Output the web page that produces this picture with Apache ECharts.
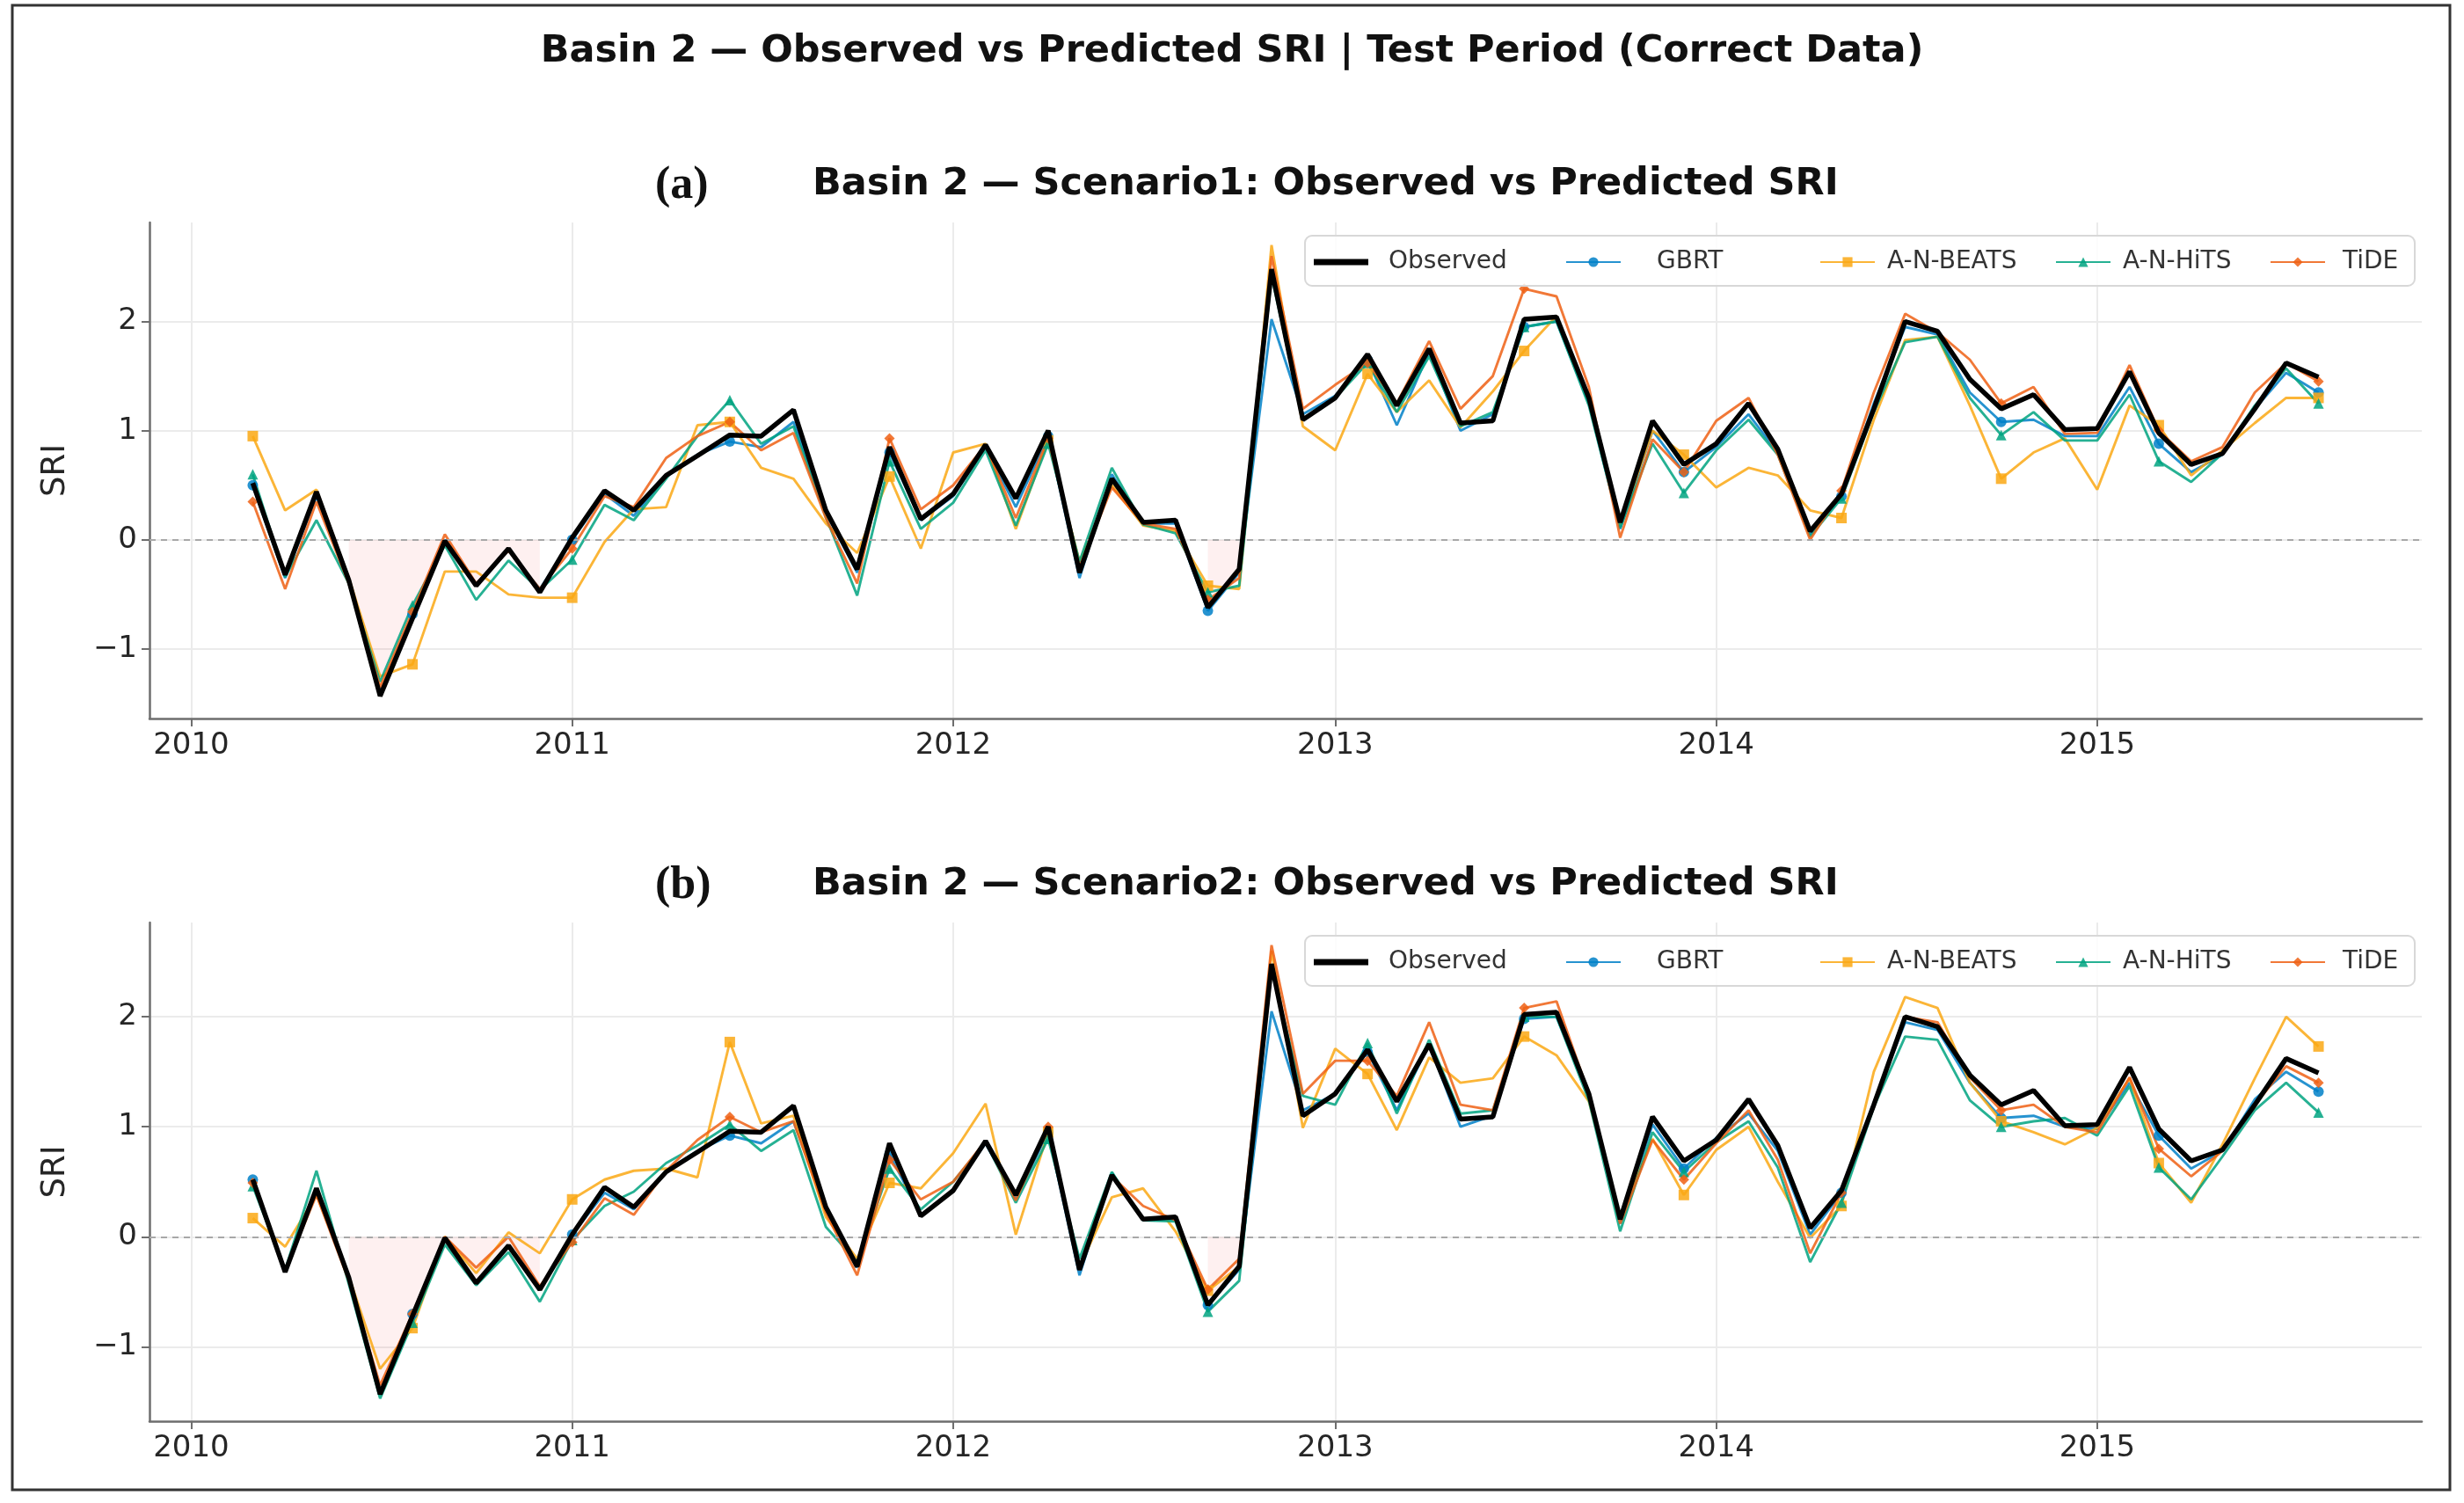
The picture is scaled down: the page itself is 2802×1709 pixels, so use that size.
<!DOCTYPE html>
<html>
<head>
<meta charset="utf-8">
<title>Basin 2 — Observed vs Predicted SRI</title>
<script src="https://cdn.jsdelivr.net/npm/echarts@6/dist/echarts.min.js"></script>
<style>
  html, body { margin: 0; padding: 0; background: #fff; }
  #chart { width: 2802px; height: 1709px; }
</style>
</head>
<body>
<div id="chart"></div>
<script>
// monthly test period
const months = [
  '2010-03','2010-04','2010-05','2010-06','2010-07','2010-08','2010-09','2010-10','2010-11','2010-12',
  '2011-01','2011-02','2011-03','2011-04','2011-05','2011-06','2011-07','2011-08','2011-09','2011-10','2011-11','2011-12',
  '2012-01','2012-02','2012-03','2012-04','2012-05','2012-06','2012-07','2012-08','2012-09','2012-10','2012-11','2012-12',
  '2013-01','2013-02','2013-03','2013-04','2013-05','2013-06','2013-07','2013-08','2013-09','2013-10','2013-11','2013-12',
  '2014-01','2014-02','2014-03','2014-04','2014-05','2014-06','2014-07','2014-08','2014-09','2014-10','2014-11','2014-12',
  '2015-01','2015-02','2015-03','2015-04','2015-05','2015-06','2015-07','2015-08'
];
const yearTicks = [2010, 2011, 2012, 2013, 2014, 2015];
const sriTicks = [-1, 0, 1, 2];

const observed = [
  0.52, -0.32, 0.44, -0.37, -1.43, -0.72, -0.01, -0.42, -0.08, -0.48,
  0.02, 0.45, 0.27, 0.59, 0.77, 0.96, 0.95, 1.19, 0.27, -0.27,
  0.85, 0.19, 0.42, 0.87, 0.38, 1.00, -0.30, 0.56, 0.16, 0.18,
  -0.62, -0.27, 2.48, 1.10, 1.30, 1.70, 1.23, 1.75, 1.07, 1.09,
  2.02, 2.04, 1.30, 0.16, 1.09, 0.69, 0.88, 1.25, 0.83, 0.08,
  0.42, 1.20, 2.00, 1.91, 1.47, 1.20, 1.33, 1.01, 1.02, 1.54,
  0.98, 0.69, 0.79, 1.20, 1.62, 1.49
];

// Scenario 1
const gbrt1 = [
  0.50, -0.35, 0.40, -0.38, -1.40, -0.68, 0.00, -0.40, -0.10, -0.45,
  0.00, 0.42, 0.22, 0.58, 0.78, 0.90, 0.85, 1.08, 0.25, -0.30,
  0.80, 0.18, 0.40, 0.85, 0.30, 0.95, -0.35, 0.60, 0.15, 0.15,
  -0.65, -0.30, 2.02, 1.15, 1.32, 1.65, 1.05, 1.72, 1.00, 1.15,
  1.95, 2.00, 1.25, 0.10, 1.00, 0.62, 0.85, 1.15, 0.80, 0.05,
  0.40, 1.25, 1.95, 1.88, 1.35, 1.08, 1.10, 0.95, 0.95, 1.40,
  0.88, 0.62, 0.78, 1.20, 1.53, 1.35
];
const nbeats1 = [
  0.95, 0.27, 0.46, -0.35, -1.25, -1.14, -0.29, -0.29, -0.50, -0.53,
  -0.53, -0.02, 0.28, 0.30, 1.05, 1.08, 0.66, 0.56, 0.15, -0.12,
  0.58, -0.08, 0.80, 0.88, 0.10, 0.91, -0.20, 0.50, 0.13, 0.08,
  -0.42, -0.45, 2.70, 1.04, 0.82, 1.52, 1.17, 1.46, 1.03, 1.36,
  1.73, 2.05, 1.30, 0.14, 1.00, 0.78, 0.48, 0.66, 0.59, 0.27,
  0.20, 1.10, 1.83, 1.86, 1.23, 0.56, 0.80, 0.93, 0.46, 1.23,
  1.05, 0.59, 0.82, 1.07, 1.30, 1.30
];
const nhits1 = [
  0.60, -0.34, 0.18, -0.40, -1.30, -0.60, -0.05, -0.55, -0.19, -0.46,
  -0.18, 0.32, 0.18, 0.56, 0.95, 1.28, 0.88, 1.04, 0.21, -0.51,
  0.72, 0.10, 0.34, 0.82, 0.13, 0.88, -0.20, 0.66, 0.14, 0.06,
  -0.48, -0.42, 2.42, 1.10, 1.30, 1.62, 1.17, 1.68, 1.04, 1.17,
  1.95, 2.00, 1.23, 0.11, 0.88, 0.43, 0.82, 1.10, 0.78, 0.03,
  0.38, 1.17, 1.81, 1.86, 1.30, 0.96, 1.17, 0.91, 0.91, 1.33,
  0.72, 0.53, 0.79, 1.23, 1.57, 1.25
];
const tide1 = [
  0.35, -0.45, 0.35, -0.40, -1.35, -0.66, 0.05, -0.40, -0.10, -0.45,
  -0.08, 0.40, 0.30, 0.75, 0.95, 1.08, 0.82, 0.98, 0.20, -0.40,
  0.93, 0.28, 0.50, 0.87, 0.20, 0.93, -0.25, 0.48, 0.15, 0.10,
  -0.55, -0.35, 2.60, 1.20, 1.42, 1.62, 1.25, 1.82, 1.20, 1.50,
  2.30, 2.23, 1.40, 0.02, 0.92, 0.62, 1.09, 1.30, 0.78, 0.00,
  0.45, 1.35, 2.07, 1.90, 1.65, 1.25, 1.40, 0.97, 0.98, 1.60,
  1.00, 0.72, 0.85, 1.35, 1.62, 1.45
];

// Scenario 2
const gbrt2 = [
  0.52, -0.32, 0.42, -0.38, -1.42, -0.70, -0.02, -0.42, -0.08, -0.48,
  0.02, 0.40, 0.25, 0.60, 0.78, 0.92, 0.85, 1.05, 0.25, -0.28,
  0.75, 0.20, 0.42, 0.85, 0.35, 0.95, -0.35, 0.58, 0.15, 0.16,
  -0.62, -0.30, 2.05, 1.15, 1.30, 1.68, 1.15, 1.75, 1.00, 1.10,
  1.98, 2.00, 1.28, 0.12, 1.02, 0.62, 0.90, 1.12, 0.78, 0.02,
  0.40, 1.22, 1.95, 1.88, 1.40, 1.08, 1.10, 1.00, 0.98, 1.40,
  0.92, 0.62, 0.78, 1.25, 1.50, 1.32
];
const nbeats2 = [
  0.17, -0.09, 0.38, -0.36, -1.20, -0.83, 0.00, -0.33, 0.04, -0.15,
  0.34, 0.52, 0.60, 0.62, 0.54, 1.77, 1.03, 1.10, 0.18, -0.20,
  0.49, 0.44, 0.76, 1.21, 0.02, 0.95, -0.27, 0.36, 0.44, 0.05,
  -0.49, -0.27, 2.60, 0.99, 1.71, 1.48, 0.97, 1.63, 1.40, 1.44,
  1.82, 1.65, 1.23, 0.18, 0.89, 0.38, 0.79, 1.00, 0.50, -0.01,
  0.28, 1.50, 2.18, 2.08, 1.40, 1.05, 0.95, 0.84, 0.99, 1.44,
  0.67, 0.31, 0.84, 1.44, 2.00, 1.73
];
const nhits2 = [
  0.46, -0.30, 0.60, -0.43, -1.47, -0.78, -0.07, -0.44, -0.14, -0.59,
  -0.03, 0.28, 0.41, 0.67, 0.83, 1.02, 0.78, 0.97, 0.09, -0.23,
  0.62, 0.25, 0.50, 0.86, 0.31, 0.89, -0.20, 0.59, 0.15, 0.14,
  -0.68, -0.40, 2.43, 1.28, 1.20, 1.76, 1.12, 1.79, 1.12, 1.15,
  2.00, 2.00, 1.24, 0.05, 0.95, 0.59, 0.86, 1.05, 0.63, -0.23,
  0.31, 1.18, 1.82, 1.79, 1.24, 1.00, 1.05, 1.08, 0.92, 1.37,
  0.63, 0.34, 0.73, 1.15, 1.40, 1.13
];
const tide2 = [
  0.49, -0.30, 0.38, -0.40, -1.35, -0.70, 0.00, -0.28, 0.00, -0.45,
  -0.05, 0.35, 0.20, 0.60, 0.88, 1.09, 0.95, 1.05, 0.22, -0.35,
  0.70, 0.34, 0.50, 0.87, 0.33, 1.00, -0.30, 0.55, 0.28, 0.15,
  -0.48, -0.20, 2.65, 1.30, 1.60, 1.60, 1.28, 1.95, 1.20, 1.15,
  2.08, 2.14, 1.30, 0.12, 0.88, 0.52, 0.85, 1.15, 0.70, -0.15,
  0.40, 1.20, 2.00, 1.95, 1.45, 1.15, 1.20, 1.00, 0.95, 1.45,
  0.80, 0.55, 0.78, 1.20, 1.55, 1.40
];

const models = ['GBRT', 'A-N-BEATS', 'A-N-HiTS', 'TiDE'];
const modelColor = {
  'GBRT': 'rgba(0,128,200,0.85)',
  'A-N-BEATS': 'rgba(250,168,20,0.85)',
  'A-N-HiTS': 'rgba(0,163,128,0.85)',
  'TiDE': 'rgba(238,96,20,0.85)'
};
const modelSymbol = { 'GBRT': 'circle', 'A-N-BEATS': 'rect', 'A-N-HiTS': 'triangle', 'TiDE': 'diamond' };

const panels = [
  { tag: '(a)', title: 'Basin 2 \u2014 Scenario1: Observed vs Predicted SRI', preds: [gbrt1, nbeats1, nhits1, tide1] },
  { tag: '(b)', title: 'Basin 2 \u2014 Scenario2: Observed vs Predicted SRI', preds: [gbrt2, nbeats2, nhits2, tide2] }
];

const times = months.map(function (m) {
  const p = m.split('-');
  return new Date(+p[0], +p[1] - 1, 1).getTime();
});
const yearTimes = yearTicks.map(function (y) { return new Date(y, 0, 1).getTime(); });
const pts = function (arr) { return arr.map(function (v, i) { return [times[i], v]; }); };

// drought shading: runs of 2+ consecutive negative observed months
const droughtMask = observed.map(function () { return false; });
(function () {
  let i = 0;
  while (i < observed.length) {
    if (observed[i] < 0) {
      let j = i;
      while (j < observed.length && observed[j] < 0) j++;
      if (j - i >= 2) for (let k = i; k < j; k++) droughtMask[k] = true;
      i = j;
    } else i++;
  }
})();
const droughtFill = observed.map(function (v, i) { return droughtMask[i] ? v : null; });

const span = times[times.length - 1] - times[0];
const xMin = times[0] - span * 0.05;
const xMax = times[times.length - 1] + span * 0.05;

// layout (px)
const plotLeft = 170, plotRight = 48;
const panelTop = [253, 1049];
const panelH = [564, 567];
const legendTop = [284, 1080];
const legendSlots = [[1494, 18], [1780, 36], [2069, 9], [2337, 9], [2581, 15]];

const font = 'DejaVu Sans';
const spineColor = '#6e6e6e';

const option = {
  animation: false,
  backgroundColor: '#fff',
  textStyle: { fontFamily: font },
  title: [{
    text: 'Basin 2 \u2014 Observed vs Predicted SRI | Test Period (Correct Data)',
    left: 'center', top: 37, padding: 0,
    textStyle: { fontFamily: font, fontSize: 43, fontWeight: 'bold', color: '#111' }
  }],
  grid: [],
  xAxis: [],
  yAxis: [],
  legend: [],
  series: [],
  graphic: [{
    type: 'rect', z: 0,
    shape: { x: 14, y: 6, width: 2772, height: 1688 },
    style: { fill: 'none', stroke: '#333', lineWidth: 3 }
  }]
};

panels.forEach(function (pn, gi) {
  const all = [observed].concat(pn.preds).reduce(function (a, b) { return a.concat(b); }, []);
  const lo = Math.min.apply(null, all), hi = Math.max.apply(null, all);
  const pad = (hi - lo) * 0.05;
  const sub = gi * 796;

  option.title.push({
    text: pn.tag, left: 745, top: 186 + sub, padding: 0,
    textStyle: { fontFamily: 'Liberation Serif', fontSize: 52, fontWeight: 'bold', color: '#111' }
  });
  option.title.push({
    text: pn.title, left: 924, top: 188 + sub, padding: 0,
    textStyle: { fontFamily: font, fontSize: 43, fontWeight: 'bold', color: '#111' }
  });

  option.grid.push({ left: plotLeft, right: plotRight, top: panelTop[gi], height: panelH[gi] });

  option.xAxis.push({
    type: 'value', gridIndex: gi, min: xMin, max: xMax,
    axisLine: { show: true, onZero: false, lineStyle: { color: spineColor, width: 2.5 } },
    axisTick: { show: true, customValues: yearTimes, length: 9, lineStyle: { color: spineColor, width: 2 } },
    axisLabel: {
      customValues: yearTimes, fontSize: 34, color: '#262626', margin: 14, fontFamily: font,
      formatter: function (v) { return String(new Date(v).getFullYear()); }
    },
    splitLine: { show: true, lineStyle: { color: '#ebebeb', width: 2 } }
  });

  option.yAxis.push({
    type: 'value', gridIndex: gi, min: lo - pad, max: hi + pad,
    name: 'SRI', nameLocation: 'middle', nameRotate: 90, nameGap: 88,
    nameTextStyle: { fontSize: 37, color: '#262626', fontFamily: font },
    axisLine: { show: true, onZero: false, lineStyle: { color: spineColor, width: 2.5 } },
    axisTick: { show: true, customValues: sriTicks, length: 9, lineStyle: { color: spineColor, width: 2 } },
    axisLabel: {
      customValues: sriTicks, fontSize: 34, color: '#262626', margin: 14, fontFamily: font,
      formatter: function (v) { return v < 0 ? '\u2212' + Math.abs(v) : String(v); }
    },
    splitLine: { show: true, lineStyle: { color: '#ebebeb', width: 2 } }
  });

  // shaded drought spells + zero reference line
  option.series.push({
    name: 'drought', type: 'line', xAxisIndex: gi, yAxisIndex: gi,
    data: pts(droughtFill), symbol: 'none', connectNulls: false,
    lineStyle: { width: 0 },
    areaStyle: { color: 'rgba(240,90,90,0.13)', origin: 'auto' },
    silent: true, z: 1,
    markLine: {
      silent: true, symbol: 'none', label: { show: false },
      lineStyle: { color: '#a8a8a8', width: 2.2, type: [7, 6] },
      data: [{ yAxis: 0 }]
    }
  });

  models.forEach(function (name, mi) {
    option.series.push({
      name: name, type: 'line', xAxisIndex: gi, yAxisIndex: gi,
      data: pts(pn.preds[mi]),
      symbol: modelSymbol[name],
      symbolSize: function (v, p) { return p.dataIndex % 5 === 0 ? 12 : 0; },
      showAllSymbol: true,
      lineStyle: { width: 2.9, color: modelColor[name] },
      itemStyle: { color: modelColor[name] },
      z: 3
    });
  });

  option.series.push({
    name: 'Observed', type: 'line', xAxisIndex: gi, yAxisIndex: gi,
    data: pts(observed), symbol: 'none',
    lineStyle: { width: 5.5, color: '#000' },
    itemStyle: { color: '#000' },
    z: 5
  });

  // legend frame
  option.graphic.push({
    type: 'rect', z: 10,
    shape: { x: 1484, y: legendTop[gi] - 16, width: 1262, height: 57, r: 8 },
    style: { fill: 'rgba(255,255,255,0.82)', stroke: '#d8d8d8', lineWidth: 2 }
  });

  ['Observed'].concat(models).forEach(function (name, li) {
    const isObs = name === 'Observed';
    const lg = {
      data: [name], left: legendSlots[li][0], top: legendTop[gi], padding: 0, z: 20,
      selectedMode: false,
      itemWidth: 62, itemHeight: isObs ? 7 : 14,
      textStyle: { fontSize: 28, color: '#333', fontFamily: font, padding: [0, 0, 0, legendSlots[li][1]] }
    };
    if (isObs) lg.icon = 'rect';
    option.legend.push(lg);
  });
});

const chart = echarts.init(document.getElementById('chart'), null, { renderer: 'canvas' });
chart.setOption(option);
window.addEventListener('resize', function () { chart.resize(); });
</script>
</body>
</html>
